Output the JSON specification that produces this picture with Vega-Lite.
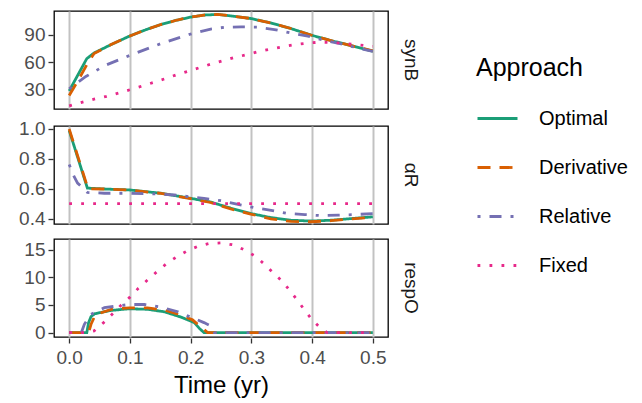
{
  "$schema": "https://vega.github.io/schema/vega-lite/v6.json",
  "padding": {"left": 18, "top": 10, "right": 5, "bottom": 2},
  "config": {
    "font": "Liberation Sans",
    "view": {"stroke": "#000000", "strokeWidth": 1.3},
    "axis": {"labelFont": "Liberation Sans", "titleFont": "Liberation Sans", "labelColor": "#4D4D4D", "labelFontSize": 19, "tickColor": "#333333", "tickSize": 5, "tickWidth": 1.3, "domain": false, "grid": false, "labelPadding": 3},
    "header": {"labelFont": "Liberation Sans", "labelFontSize": 19, "labelColor": "#1A1A1A"},
    "legend": {"labelFont": "Liberation Sans", "titleFont": "Liberation Sans", "orient": "none", "legendX": 422, "legendY": 45, "titleFontSize": 25, "titleFontWeight": "normal", "titleColor": "#000000", "titlePadding": 16, "labelFontSize": 20, "labelColor": "#000000", "labelOffset": 20, "symbolType": "stroke", "symbolSize": 1600, "symbolStrokeWidth": 2.8, "rowPadding": 17}
  },
  "datasets": {
    "synB": [
      {"panel": "synB", "approach": "Optimal", "t": 0, "value": 28},
      {"panel": "synB", "approach": "Optimal", "t": 0.029, "value": 63.8},
      {"panel": "synB", "approach": "Optimal", "t": 0.041, "value": 70},
      {"panel": "synB", "approach": "Optimal", "t": 0.069, "value": 79.3},
      {"panel": "synB", "approach": "Optimal", "t": 0.099, "value": 88.6},
      {"panel": "synB", "approach": "Optimal", "t": 0.125, "value": 95.5},
      {"panel": "synB", "approach": "Optimal", "t": 0.151, "value": 101.5},
      {"panel": "synB", "approach": "Optimal", "t": 0.175, "value": 106},
      {"panel": "synB", "approach": "Optimal", "t": 0.2, "value": 109.7},
      {"panel": "synB", "approach": "Optimal", "t": 0.222, "value": 112},
      {"panel": "synB", "approach": "Optimal", "t": 0.244, "value": 112.7},
      {"panel": "synB", "approach": "Optimal", "t": 0.266, "value": 111.1},
      {"panel": "synB", "approach": "Optimal", "t": 0.299, "value": 108.2},
      {"panel": "synB", "approach": "Optimal", "t": 0.332, "value": 103.3},
      {"panel": "synB", "approach": "Optimal", "t": 0.365, "value": 97.1},
      {"panel": "synB", "approach": "Optimal", "t": 0.398, "value": 89.9},
      {"panel": "synB", "approach": "Optimal", "t": 0.431, "value": 83.8},
      {"panel": "synB", "approach": "Optimal", "t": 0.464, "value": 78.2},
      {"panel": "synB", "approach": "Optimal", "t": 0.5, "value": 71.9},
      {"panel": "synB", "approach": "Derivative", "t": 0, "value": 23},
      {"panel": "synB", "approach": "Derivative", "t": 0.015, "value": 40},
      {"panel": "synB", "approach": "Derivative", "t": 0.029, "value": 57},
      {"panel": "synB", "approach": "Derivative", "t": 0.041, "value": 69.5},
      {"panel": "synB", "approach": "Derivative", "t": 0.069, "value": 79.3},
      {"panel": "synB", "approach": "Derivative", "t": 0.099, "value": 88.6},
      {"panel": "synB", "approach": "Derivative", "t": 0.125, "value": 95.5},
      {"panel": "synB", "approach": "Derivative", "t": 0.151, "value": 101.5},
      {"panel": "synB", "approach": "Derivative", "t": 0.175, "value": 106},
      {"panel": "synB", "approach": "Derivative", "t": 0.2, "value": 109.7},
      {"panel": "synB", "approach": "Derivative", "t": 0.222, "value": 112},
      {"panel": "synB", "approach": "Derivative", "t": 0.244, "value": 112.7},
      {"panel": "synB", "approach": "Derivative", "t": 0.266, "value": 111.1},
      {"panel": "synB", "approach": "Derivative", "t": 0.299, "value": 108.2},
      {"panel": "synB", "approach": "Derivative", "t": 0.332, "value": 103.3},
      {"panel": "synB", "approach": "Derivative", "t": 0.365, "value": 97.1},
      {"panel": "synB", "approach": "Derivative", "t": 0.398, "value": 89.9},
      {"panel": "synB", "approach": "Derivative", "t": 0.431, "value": 83.8},
      {"panel": "synB", "approach": "Derivative", "t": 0.464, "value": 78.2},
      {"panel": "synB", "approach": "Derivative", "t": 0.5, "value": 72.3},
      {"panel": "synB", "approach": "Relative", "t": 0, "value": 30.4},
      {"panel": "synB", "approach": "Relative", "t": 0.0275, "value": 44},
      {"panel": "synB", "approach": "Relative", "t": 0.06, "value": 56.5},
      {"panel": "synB", "approach": "Relative", "t": 0.099, "value": 67.1},
      {"panel": "synB", "approach": "Relative", "t": 0.151, "value": 80.4},
      {"panel": "synB", "approach": "Relative", "t": 0.2, "value": 91},
      {"panel": "synB", "approach": "Relative", "t": 0.233, "value": 96.5},
      {"panel": "synB", "approach": "Relative", "t": 0.255, "value": 98.4},
      {"panel": "synB", "approach": "Relative", "t": 0.283, "value": 98.9},
      {"panel": "synB", "approach": "Relative", "t": 0.31, "value": 98.6},
      {"panel": "synB", "approach": "Relative", "t": 0.338, "value": 96},
      {"panel": "synB", "approach": "Relative", "t": 0.365, "value": 92.2},
      {"panel": "synB", "approach": "Relative", "t": 0.393, "value": 88.6},
      {"panel": "synB", "approach": "Relative", "t": 0.42, "value": 84},
      {"panel": "synB", "approach": "Relative", "t": 0.448, "value": 80},
      {"panel": "synB", "approach": "Relative", "t": 0.475, "value": 75.6},
      {"panel": "synB", "approach": "Relative", "t": 0.5, "value": 71.9},
      {"panel": "synB", "approach": "Fixed", "t": 0, "value": 11.5},
      {"panel": "synB", "approach": "Fixed", "t": 0.022, "value": 15.6},
      {"panel": "synB", "approach": "Fixed", "t": 0.041, "value": 18.9},
      {"panel": "synB", "approach": "Fixed", "t": 0.0616, "value": 21.9},
      {"panel": "synB", "approach": "Fixed", "t": 0.081, "value": 25.6},
      {"panel": "synB", "approach": "Fixed", "t": 0.1, "value": 29.3},
      {"panel": "synB", "approach": "Fixed", "t": 0.12, "value": 33.4},
      {"panel": "synB", "approach": "Fixed", "t": 0.139, "value": 37.4},
      {"panel": "synB", "approach": "Fixed", "t": 0.158, "value": 41.5},
      {"panel": "synB", "approach": "Fixed", "t": 0.177, "value": 46},
      {"panel": "synB", "approach": "Fixed", "t": 0.197, "value": 50},
      {"panel": "synB", "approach": "Fixed", "t": 0.216, "value": 54.1},
      {"panel": "synB", "approach": "Fixed", "t": 0.235, "value": 58},
      {"panel": "synB", "approach": "Fixed", "t": 0.254, "value": 61.6},
      {"panel": "synB", "approach": "Fixed", "t": 0.273, "value": 65.2},
      {"panel": "synB", "approach": "Fixed", "t": 0.294, "value": 68.4},
      {"panel": "synB", "approach": "Fixed", "t": 0.313, "value": 71.8},
      {"panel": "synB", "approach": "Fixed", "t": 0.333, "value": 74.5},
      {"panel": "synB", "approach": "Fixed", "t": 0.352, "value": 77},
      {"panel": "synB", "approach": "Fixed", "t": 0.372, "value": 79.3},
      {"panel": "synB", "approach": "Fixed", "t": 0.393, "value": 81},
      {"panel": "synB", "approach": "Fixed", "t": 0.4125, "value": 82},
      {"panel": "synB", "approach": "Fixed", "t": 0.432, "value": 81.7},
      {"panel": "synB", "approach": "Fixed", "t": 0.452, "value": 80.8},
      {"panel": "synB", "approach": "Fixed", "t": 0.473, "value": 79.3},
      {"panel": "synB", "approach": "Fixed", "t": 0.5, "value": 77.3}
    ],
    "alphaR": [
      {"panel": "αR", "approach": "Optimal", "t": 0, "value": 0.99},
      {"panel": "αR", "approach": "Optimal", "t": 0.03, "value": 0.604},
      {"panel": "αR", "approach": "Optimal", "t": 0.06, "value": 0.598},
      {"panel": "αR", "approach": "Optimal", "t": 0.099, "value": 0.592},
      {"panel": "αR", "approach": "Optimal", "t": 0.151, "value": 0.57},
      {"panel": "αR", "approach": "Optimal", "t": 0.2, "value": 0.536},
      {"panel": "αR", "approach": "Optimal", "t": 0.233, "value": 0.511},
      {"panel": "αR", "approach": "Optimal", "t": 0.266, "value": 0.47},
      {"panel": "αR", "approach": "Optimal", "t": 0.299, "value": 0.434},
      {"panel": "αR", "approach": "Optimal", "t": 0.332, "value": 0.407},
      {"panel": "αR", "approach": "Optimal", "t": 0.365, "value": 0.389},
      {"panel": "αR", "approach": "Optimal", "t": 0.398, "value": 0.384},
      {"panel": "αR", "approach": "Optimal", "t": 0.431, "value": 0.389},
      {"panel": "αR", "approach": "Optimal", "t": 0.464, "value": 0.4},
      {"panel": "αR", "approach": "Optimal", "t": 0.5, "value": 0.412},
      {"panel": "αR", "approach": "Derivative", "t": 0, "value": 1.0},
      {"panel": "αR", "approach": "Derivative", "t": 0.031, "value": 0.6},
      {"panel": "αR", "approach": "Derivative", "t": 0.06, "value": 0.598},
      {"panel": "αR", "approach": "Derivative", "t": 0.099, "value": 0.591},
      {"panel": "αR", "approach": "Derivative", "t": 0.151, "value": 0.569},
      {"panel": "αR", "approach": "Derivative", "t": 0.2, "value": 0.534},
      {"panel": "αR", "approach": "Derivative", "t": 0.233, "value": 0.508},
      {"panel": "αR", "approach": "Derivative", "t": 0.266, "value": 0.465},
      {"panel": "αR", "approach": "Derivative", "t": 0.299, "value": 0.43},
      {"panel": "αR", "approach": "Derivative", "t": 0.332, "value": 0.399},
      {"panel": "αR", "approach": "Derivative", "t": 0.365, "value": 0.381},
      {"panel": "αR", "approach": "Derivative", "t": 0.398, "value": 0.379},
      {"panel": "αR", "approach": "Derivative", "t": 0.431, "value": 0.386},
      {"panel": "αR", "approach": "Derivative", "t": 0.464, "value": 0.398},
      {"panel": "αR", "approach": "Derivative", "t": 0.5, "value": 0.41},
      {"panel": "αR", "approach": "Relative", "t": 0, "value": 0.762},
      {"panel": "αR", "approach": "Relative", "t": 0.008, "value": 0.683},
      {"panel": "αR", "approach": "Relative", "t": 0.0138, "value": 0.638},
      {"panel": "αR", "approach": "Relative", "t": 0.03, "value": 0.575},
      {"panel": "αR", "approach": "Relative", "t": 0.0577, "value": 0.57},
      {"panel": "αR", "approach": "Relative", "t": 0.099, "value": 0.57},
      {"panel": "αR", "approach": "Relative", "t": 0.14, "value": 0.566},
      {"panel": "αR", "approach": "Relative", "t": 0.173, "value": 0.558},
      {"panel": "αR", "approach": "Relative", "t": 0.222, "value": 0.536},
      {"panel": "αR", "approach": "Relative", "t": 0.25, "value": 0.52},
      {"panel": "αR", "approach": "Relative", "t": 0.276, "value": 0.497},
      {"panel": "αR", "approach": "Relative", "t": 0.305, "value": 0.473},
      {"panel": "αR", "approach": "Relative", "t": 0.335, "value": 0.454},
      {"panel": "αR", "approach": "Relative", "t": 0.36, "value": 0.434},
      {"panel": "αR", "approach": "Relative", "t": 0.388, "value": 0.427},
      {"panel": "αR", "approach": "Relative", "t": 0.415, "value": 0.42},
      {"panel": "αR", "approach": "Relative", "t": 0.443, "value": 0.423},
      {"panel": "αR", "approach": "Relative", "t": 0.47, "value": 0.427},
      {"panel": "αR", "approach": "Relative", "t": 0.5, "value": 0.434},
      {"panel": "αR", "approach": "Fixed", "t": 0, "value": 0.5},
      {"panel": "αR", "approach": "Fixed", "t": 0.25, "value": 0.5},
      {"panel": "αR", "approach": "Fixed", "t": 0.5, "value": 0.5}
    ],
    "respO": [
      {"panel": "respO", "approach": "Optimal", "t": 0, "value": 0},
      {"panel": "respO", "approach": "Optimal", "t": 0.029, "value": 0},
      {"panel": "respO", "approach": "Optimal", "t": 0.032, "value": 1.8},
      {"panel": "respO", "approach": "Optimal", "t": 0.036, "value": 2.9},
      {"panel": "respO", "approach": "Optimal", "t": 0.042, "value": 3.4},
      {"panel": "respO", "approach": "Optimal", "t": 0.069, "value": 4.0},
      {"panel": "respO", "approach": "Optimal", "t": 0.099, "value": 4.3},
      {"panel": "respO", "approach": "Optimal", "t": 0.129, "value": 4.2},
      {"panel": "respO", "approach": "Optimal", "t": 0.157, "value": 3.75},
      {"panel": "respO", "approach": "Optimal", "t": 0.184, "value": 2.8},
      {"panel": "respO", "approach": "Optimal", "t": 0.206, "value": 1.8},
      {"panel": "respO", "approach": "Optimal", "t": 0.215, "value": 0.7},
      {"panel": "respO", "approach": "Optimal", "t": 0.222, "value": 0},
      {"panel": "respO", "approach": "Optimal", "t": 0.5, "value": 0},
      {"panel": "respO", "approach": "Derivative", "t": 0, "value": 0},
      {"panel": "respO", "approach": "Derivative", "t": 0.032, "value": 0},
      {"panel": "respO", "approach": "Derivative", "t": 0.036, "value": 1.5},
      {"panel": "respO", "approach": "Derivative", "t": 0.043, "value": 3.2},
      {"panel": "respO", "approach": "Derivative", "t": 0.069, "value": 4.2},
      {"panel": "respO", "approach": "Derivative", "t": 0.099, "value": 4.46},
      {"panel": "respO", "approach": "Derivative", "t": 0.129, "value": 4.46},
      {"panel": "respO", "approach": "Derivative", "t": 0.157, "value": 4.05},
      {"panel": "respO", "approach": "Derivative", "t": 0.184, "value": 3.15},
      {"panel": "respO", "approach": "Derivative", "t": 0.203, "value": 2.3},
      {"panel": "respO", "approach": "Derivative", "t": 0.217, "value": 1.0},
      {"panel": "respO", "approach": "Derivative", "t": 0.228, "value": 0},
      {"panel": "respO", "approach": "Derivative", "t": 0.5, "value": 0},
      {"panel": "respO", "approach": "Relative", "t": 0, "value": 0},
      {"panel": "respO", "approach": "Relative", "t": 0.02, "value": 0},
      {"panel": "respO", "approach": "Relative", "t": 0.025, "value": 1.5},
      {"panel": "respO", "approach": "Relative", "t": 0.036, "value": 3.3},
      {"panel": "respO", "approach": "Relative", "t": 0.058, "value": 4.5},
      {"panel": "respO", "approach": "Relative", "t": 0.099, "value": 5.07},
      {"panel": "respO", "approach": "Relative", "t": 0.124, "value": 5.07},
      {"panel": "respO", "approach": "Relative", "t": 0.151, "value": 4.6},
      {"panel": "respO", "approach": "Relative", "t": 0.179, "value": 3.75},
      {"panel": "respO", "approach": "Relative", "t": 0.2, "value": 2.8},
      {"panel": "respO", "approach": "Relative", "t": 0.222, "value": 1.8},
      {"panel": "respO", "approach": "Relative", "t": 0.233, "value": 1.2},
      {"panel": "respO", "approach": "Relative", "t": 0.239, "value": 0},
      {"panel": "respO", "approach": "Relative", "t": 0.5, "value": 0},
      {"panel": "respO", "approach": "Fixed", "t": 0, "value": 0},
      {"panel": "respO", "approach": "Fixed", "t": 0.0275, "value": 0},
      {"panel": "respO", "approach": "Fixed", "t": 0.041, "value": 0.3},
      {"panel": "respO", "approach": "Fixed", "t": 0.0567, "value": 1.8},
      {"panel": "respO", "approach": "Fixed", "t": 0.0715, "value": 3.4},
      {"panel": "respO", "approach": "Fixed", "t": 0.085, "value": 4.9},
      {"panel": "respO", "approach": "Fixed", "t": 0.1, "value": 6.4},
      {"panel": "respO", "approach": "Fixed", "t": 0.114, "value": 8.0},
      {"panel": "respO", "approach": "Fixed", "t": 0.129, "value": 9.5},
      {"panel": "respO", "approach": "Fixed", "t": 0.1445, "value": 11.0},
      {"panel": "respO", "approach": "Fixed", "t": 0.161, "value": 12.5},
      {"panel": "respO", "approach": "Fixed", "t": 0.1774, "value": 13.7},
      {"panel": "respO", "approach": "Fixed", "t": 0.195, "value": 14.8},
      {"panel": "respO", "approach": "Fixed", "t": 0.2125, "value": 15.6},
      {"panel": "respO", "approach": "Fixed", "t": 0.2306, "value": 16.1},
      {"panel": "respO", "approach": "Fixed", "t": 0.25, "value": 16.2},
      {"panel": "respO", "approach": "Fixed", "t": 0.272, "value": 15.8},
      {"panel": "respO", "approach": "Fixed", "t": 0.291, "value": 14.8},
      {"panel": "respO", "approach": "Fixed", "t": 0.3076, "value": 13.7},
      {"panel": "respO", "approach": "Fixed", "t": 0.321, "value": 12.4},
      {"panel": "respO", "approach": "Fixed", "t": 0.336, "value": 10.8},
      {"panel": "respO", "approach": "Fixed", "t": 0.3516, "value": 9.2},
      {"panel": "respO", "approach": "Fixed", "t": 0.364, "value": 7.5},
      {"panel": "respO", "approach": "Fixed", "t": 0.376, "value": 5.8},
      {"panel": "respO", "approach": "Fixed", "t": 0.388, "value": 4.0},
      {"panel": "respO", "approach": "Fixed", "t": 0.401, "value": 2.2},
      {"panel": "respO", "approach": "Fixed", "t": 0.4147, "value": 0.7},
      {"panel": "respO", "approach": "Fixed", "t": 0.425, "value": 0},
      {"panel": "respO", "approach": "Fixed", "t": 0.5, "value": 0}
    ]
  },
  "spacing": 9,
  "vconcat": [
    {
      "data": {"name": "synB"},
      "facet": {"row": {"field": "panel", "type": "nominal", "title": null, "header": {"labelAngle": 90, "labelOrient": "right", "labelPadding": 12}}},
      "spec": {
        "width": 334, "height": 98,
        "mark": {"type": "line", "strokeWidth": 2.8, "clip": true},
        "encoding": {
          "x": {"field": "t", "type": "quantitative", "scale": {"domain": [-0.025, 0.525], "nice": false, "zero": false},
                "axis": {"values": [0, 0.1, 0.2, 0.3, 0.4, 0.5], "labels": false, "ticks": false, "title": null, "grid": true, "gridColor": "#C2C2C2", "gridWidth": 2}},
          "y": {"field": "value", "type": "quantitative", "scale": {"domain": [8, 116.5], "nice": false, "zero": false},
                "axis": {"values": [30, 60, 90], "title": null}},
          "color": {"field": "approach", "type": "nominal", "title": "Approach", "scale": {"domain": ["Optimal", "Derivative", "Relative", "Fixed"], "range": ["#1B9E77", "#D95F02", "#7570B3", "#E7298A"]}},
          "strokeDash": {"field": "approach", "type": "nominal", "title": "Approach", "scale": {"domain": ["Optimal", "Derivative", "Relative", "Fixed"], "range": [[1, 0], [13, 9], [3, 9, 12, 9], [2.8, 9.2]]}}
        }
      }
    },
    {
      "data": {"name": "alphaR"},
      "facet": {"row": {"field": "panel", "type": "nominal", "title": null, "header": {"labelAngle": 90, "labelOrient": "right", "labelPadding": 12}}},
      "spec": {
        "width": 334, "height": 98,
        "mark": {"type": "line", "strokeWidth": 2.8, "clip": true},
        "encoding": {
          "x": {"field": "t", "type": "quantitative", "scale": {"domain": [-0.025, 0.525], "nice": false, "zero": false},
                "axis": {"values": [0, 0.1, 0.2, 0.3, 0.4, 0.5], "labels": false, "ticks": false, "title": null, "grid": true, "gridColor": "#C2C2C2", "gridWidth": 2}},
          "y": {"field": "value", "type": "quantitative", "scale": {"domain": [0.364, 1.02], "nice": false, "zero": false},
                "axis": {"values": [0.4, 0.6, 0.8, 1.0], "format": ".1f", "title": null}},
          "color": {"field": "approach", "type": "nominal", "title": "Approach", "scale": {"domain": ["Optimal", "Derivative", "Relative", "Fixed"], "range": ["#1B9E77", "#D95F02", "#7570B3", "#E7298A"]}},
          "strokeDash": {"field": "approach", "type": "nominal", "title": "Approach", "scale": {"domain": ["Optimal", "Derivative", "Relative", "Fixed"], "range": [[1, 0], [13, 9], [3, 9, 12, 9], [2.8, 9.2]]}}
        }
      }
    },
    {
      "data": {"name": "respO"},
      "facet": {"row": {"field": "panel", "type": "nominal", "title": null, "header": {"labelAngle": 90, "labelOrient": "right", "labelPadding": 12}}},
      "spec": {
        "width": 334, "height": 98,
        "mark": {"type": "line", "strokeWidth": 2.8, "clip": true},
        "encoding": {
          "x": {"field": "t", "type": "quantitative", "scale": {"domain": [-0.025, 0.525], "nice": false, "zero": false},
                "axis": {"values": [0, 0.1, 0.2, 0.3, 0.4, 0.5], "format": ".1f", "title": "Time (yr)", "titleFontSize": 24, "titleFontWeight": "normal", "titleColor": "#000000", "titlePadding": 6, "labelPadding": 5, "grid": true, "gridColor": "#C2C2C2", "gridWidth": 2}},
          "y": {"field": "value", "type": "quantitative", "scale": {"domain": [-0.8, 16.9], "nice": false, "zero": false},
                "axis": {"values": [0, 5, 10, 15], "title": null}},
          "color": {"field": "approach", "type": "nominal", "title": "Approach", "scale": {"domain": ["Optimal", "Derivative", "Relative", "Fixed"], "range": ["#1B9E77", "#D95F02", "#7570B3", "#E7298A"]}},
          "strokeDash": {"field": "approach", "type": "nominal", "title": "Approach", "scale": {"domain": ["Optimal", "Derivative", "Relative", "Fixed"], "range": [[1, 0], [13, 9], [3, 9, 12, 9], [2.8, 9.2]]}}
        }
      }
    }
  ],
  "resolve": {"scale": {"color": "shared", "strokeDash": "shared"}, "legend": {"color": "shared", "strokeDash": "shared"}}
}
